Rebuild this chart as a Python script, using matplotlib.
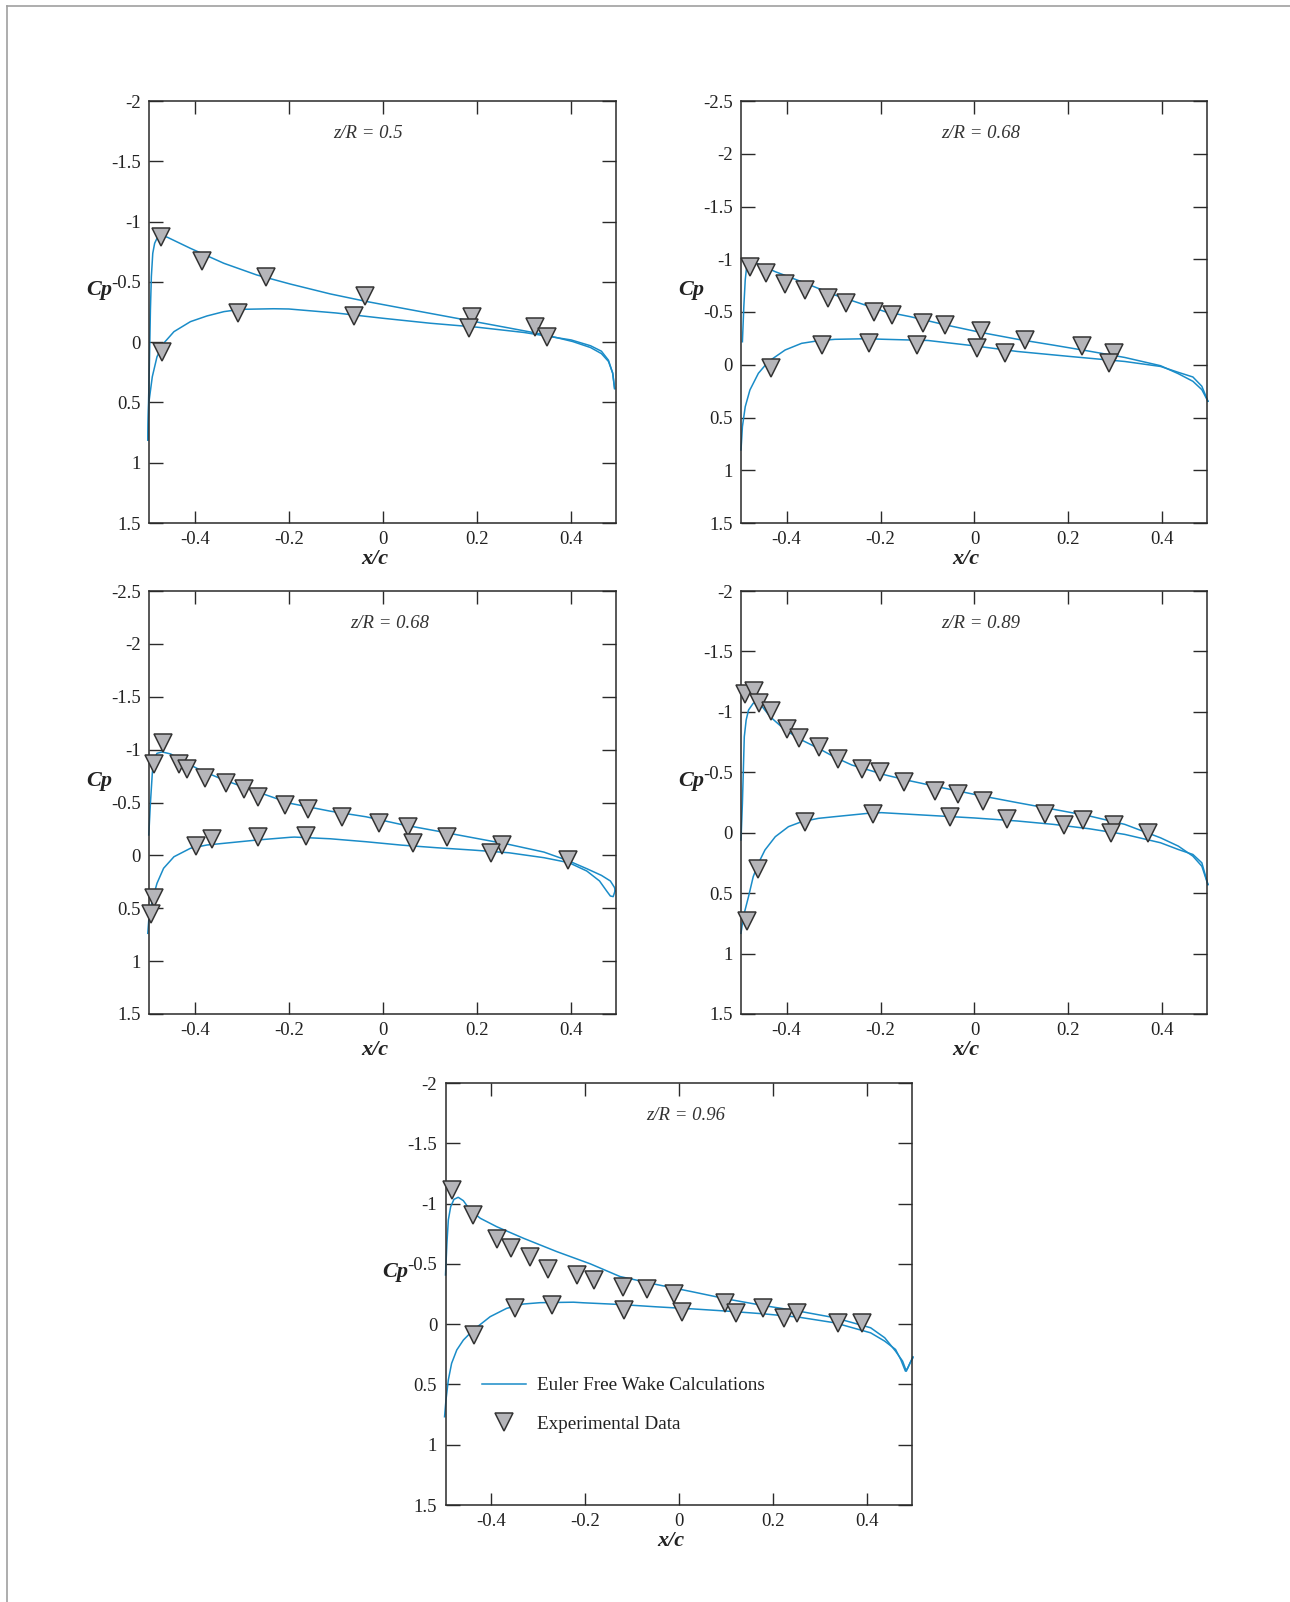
import matplotlib
matplotlib.use("Agg")
import matplotlib.pyplot as plt
from matplotlib.lines import Line2D

plt.rcParams['font.family'] = ['Liberation Serif', 'DejaVu Serif']
plt.rcParams['axes.unicode_minus'] = False

# ---------------- data ----------------
titles = ["z/R = 0.5", "z/R = 0.68", "z/R = 0.68", "z/R = 0.89", "z/R = 0.96"]
ylims = [(-2.0, 1.5), (-2.5, 1.5), (-2.5, 1.5), (-2.0, 1.5), (-2.0, 1.5)]
xticks = [-0.4, -0.2, 0.0, 0.2, 0.4]
xtick_labels = ["-0.4", "-0.2", "0", "0.2", "0.4"]
yticks_a = [-2.0, -1.5, -1.0, -0.5, 0.0, 0.5, 1.0, 1.5]
yticks_b = [-2.5, -2.0, -1.5, -1.0, -0.5, 0.0, 0.5, 1.0, 1.5]

# Panel 1 (z/R = 0.5)
p1_exp_x = [-0.472, -0.385, -0.248, -0.038, 0.189, 0.183, 0.322, 0.348, -0.307, -0.061, -0.470]
p1_exp_cp = [-0.871, -0.673, -0.541, -0.379, -0.212, -0.118, -0.126, -0.041, -0.242, -0.217, 0.082]
p1_up_x = [-0.4996, -0.498, -0.496, -0.494, -0.492, -0.489, -0.485, -0.480, -0.469, -0.458, -0.409,
           -0.338, -0.268, -0.197, -0.112, -0.036, 0.039, 0.115, 0.191, 0.267, 0.342, 0.403,
           0.441, 0.464, 0.479, 0.488, 0.492]
p1_up_cp = [0.812, 0.507, 0.148, -0.267, -0.543, -0.737, -0.820, -0.861, -0.880, -0.870, -0.778,
            -0.654, -0.557, -0.482, -0.400, -0.338, -0.283, -0.228, -0.173, -0.118, -0.063, -0.005,
            0.045, 0.095, 0.160, 0.255, 0.385]
p1_lo_x = [-0.4996, -0.4975, -0.490, -0.480, -0.466, -0.444, -0.409, -0.374, -0.338, -0.303, -0.232,
           -0.2, -0.1, 0.0, 0.1, 0.2, 0.3, 0.4, 0.441, 0.464, 0.479, 0.488, 0.492]
p1_lo_cp = [0.812, 0.507, 0.287, 0.121, 0.010, -0.087, -0.170, -0.217, -0.253, -0.272, -0.277,
            -0.275, -0.242, -0.198, -0.157, -0.124, -0.080, -0.018, 0.030, 0.075, 0.150, 0.260, 0.385]

# Panel 2 (z/R = 0.68)
p2_exp_x = [-0.478, -0.444, -0.404, -0.360, -0.312, -0.274, -0.213, -0.175, -0.110, -0.063, 0.014,
            0.107, 0.229, 0.297, 0.286, -0.324, -0.225, -0.123, 0.006, 0.066, -0.433]
p2_exp_cp = [-0.928, -0.865, -0.770, -0.708, -0.629, -0.588, -0.503, -0.472, -0.393, -0.377, -0.324,
             -0.236, -0.173, -0.110, -0.016, -0.189, -0.204, -0.189, -0.157, -0.110, 0.031]
p2_up_x = [-0.494, -0.491, -0.488, -0.485, -0.478, -0.460, -0.424, -0.368, -0.297, -0.190, -0.137,
           -0.061, 0.015, 0.091, 0.168, 0.244, 0.320, 0.396, 0.434, 0.465, 0.484, 0.497]
p2_up_cp = [-0.218, -0.550, -0.803, -0.929, -0.977, -0.955, -0.882, -0.787, -0.661, -0.503, -0.456,
            -0.377, -0.305, -0.242, -0.186, -0.129, -0.069, 0.009, 0.085, 0.157, 0.236, 0.346]
p2_lo_x = [-0.497, -0.494, -0.488, -0.478, -0.460, -0.439, -0.403, -0.368, -0.332, -0.297, -0.226,
           -0.198, -0.099, 0.0, 0.091, 0.202, 0.320, 0.396, 0.434, 0.465, 0.484, 0.497]
p2_lo_cp = [0.808, 0.587, 0.398, 0.239, 0.081, -0.029, -0.140, -0.203, -0.228, -0.241, -0.247,
            -0.242, -0.230, -0.179, -0.126, -0.079, -0.031, 0.016, 0.072, 0.116, 0.204, 0.346]

# Panel 3 (z/R = 0.68)
p3_exp_x = [-0.467, -0.486, -0.434, -0.417, -0.377, -0.333, -0.296, -0.266, -0.208, -0.160, -0.086,
            -0.009, 0.053, 0.136, 0.252, 0.230, 0.394, 0.064, -0.164, -0.266, -0.364, -0.398,
            -0.486, -0.492]
p3_exp_cp = [-1.063, -0.865, -0.865, -0.818, -0.733, -0.686, -0.629, -0.550, -0.472, -0.440, -0.362,
             -0.308, -0.270, -0.176, -0.097, -0.025, 0.044, -0.119, -0.182, -0.176, -0.151, -0.088,
             0.399, 0.557]
p3_up_x = [-0.4975, -0.494, -0.490, -0.487, -0.480, -0.469, -0.451, -0.423, -0.388, -0.338, -0.268,
           -0.197, -0.112, -0.036, 0.039, 0.115, 0.191, 0.267, 0.342, 0.395, 0.433, 0.464,
           0.483, 0.492, 0.493]
p3_up_cp = [-0.193, -0.492, -0.776, -0.902, -0.965, -0.978, -0.959, -0.886, -0.807, -0.713, -0.602,
            -0.492, -0.418, -0.365, -0.292, -0.230, -0.167, -0.104, -0.031, 0.053, 0.126, 0.189,
            0.242, 0.305, 0.336]
p3_lo_x = [-0.4996, -0.4975, -0.490, -0.480, -0.466, -0.444, -0.409, -0.374, -0.338, -0.268, -0.197,
           -0.188, -0.112, -0.036, 0.039, 0.115, 0.191, 0.267, 0.342, 0.395, 0.433, 0.460,
           0.475, 0.483, 0.489, 0.493]
p3_lo_cp = [0.737, 0.611, 0.422, 0.264, 0.122, 0.013, -0.067, -0.098, -0.114, -0.145, -0.171,
            -0.173, -0.157, -0.129, -0.097, -0.072, -0.050, -0.025, 0.022, 0.069, 0.148, 0.242,
            0.336, 0.384, 0.390, 0.336]

# Panel 4 (z/R = 0.89)
p4_exp_x = [-0.488, -0.469, -0.459, -0.434, -0.400, -0.373, -0.331, -0.290, -0.240, -0.202, -0.149,
            -0.084, -0.034, 0.018, 0.150, 0.190, 0.230, 0.297, 0.291, 0.370, 0.069, -0.053,
            -0.217, -0.360, -0.460, -0.485]
p4_exp_cp = [-1.150, -1.169, -1.075, -1.003, -0.859, -0.781, -0.706, -0.609, -0.526, -0.499, -0.416,
             -0.346, -0.319, -0.263, -0.158, -0.066, -0.105, -0.061, 0.000, 0.000, -0.116, -0.133,
             -0.152, -0.091, 0.299, 0.734]
p4_up_x = [-0.497, -0.494, -0.492, -0.490, -0.486, -0.481, -0.471, -0.460, -0.435, -0.403, -0.368,
           -0.332, -0.297, -0.261, -0.190, -0.137, -0.061, 0.015, 0.091, 0.168, 0.244, 0.320,
           0.396, 0.434, 0.465, 0.484, 0.497]
p4_up_cp = [0.060, -0.243, -0.519, -0.794, -0.933, -1.015, -1.071, -1.084, -0.960, -0.850, -0.767,
            -0.698, -0.624, -0.560, -0.478, -0.429, -0.366, -0.305, -0.249, -0.194, -0.139, -0.069,
            0.042, 0.111, 0.194, 0.277, 0.429]
p4_lo_x = [-0.497, -0.492, -0.481, -0.471, -0.460, -0.446, -0.424, -0.396, -0.368, -0.332, -0.297,
           -0.225, -0.198, -0.099, 0.0, 0.091, 0.168, 0.244, 0.320, 0.396, 0.434, 0.465,
           0.484, 0.497]
p4_lo_cp = [0.832, 0.695, 0.529, 0.364, 0.253, 0.143, 0.033, -0.050, -0.091, -0.119, -0.133,
            -0.161, -0.166, -0.144, -0.122, -0.097, -0.069, -0.033, 0.014, 0.083, 0.139, 0.180,
            0.249, 0.429]

# Panel 5 (z/R = 0.96)
p5_exp_x = [-0.483, -0.439, -0.388, -0.357, -0.318, -0.279, -0.218, -0.181, -0.120, -0.069, -0.012,
            0.098, 0.121, 0.178, 0.222, 0.251, 0.338, 0.389, 0.005, -0.117, -0.271, -0.349, -0.437]
p5_exp_cp = [-1.110, -0.905, -0.708, -0.628, -0.556, -0.454, -0.407, -0.365, -0.307, -0.288, -0.252,
             -0.177, -0.094, -0.136, -0.053, -0.094, -0.006, -0.011, -0.102, -0.116, -0.158, -0.130,
             0.094]
p5_up_x = [-0.497, -0.494, -0.491, -0.486, -0.479, -0.470, -0.459, -0.445, -0.423, -0.388, -0.331,
           -0.260, -0.189, -0.126, -0.050, 0.026, 0.102, 0.178, 0.254, 0.331, 0.407, 0.437,
           0.460, 0.475, 0.483, 0.491, 0.497]
p5_up_cp = [-0.408, -0.670, -0.864, -0.974, -1.035, -1.052, -1.024, -0.947, -0.878, -0.808, -0.712,
            -0.601, -0.500, -0.395, -0.330, -0.270, -0.208, -0.155, -0.108, -0.053, 0.030, 0.113,
            0.224, 0.307, 0.390, 0.321, 0.279]
p5_lo_x = [-0.499, -0.496, -0.491, -0.484, -0.473, -0.459, -0.438, -0.402, -0.367, -0.331, -0.296,
           -0.225, -0.203, -0.126, -0.050, 0.026, 0.102, 0.178, 0.254, 0.331, 0.407, 0.437,
           0.460, 0.471, 0.481, 0.486, 0.497]
p5_lo_cp = [0.768, 0.629, 0.463, 0.325, 0.214, 0.132, 0.049, -0.062, -0.131, -0.167, -0.178,
            -0.182, -0.177, -0.163, -0.144, -0.127, -0.108, -0.086, -0.058, -0.011, 0.072, 0.141,
            0.210, 0.293, 0.390, 0.363, 0.271]

panels = [
    (p1_exp_x, p1_exp_cp, p1_up_x, p1_up_cp, p1_lo_x, p1_lo_cp),
    (p2_exp_x, p2_exp_cp, p2_up_x, p2_up_cp, p2_lo_x, p2_lo_cp),
    (p3_exp_x, p3_exp_cp, p3_up_x, p3_up_cp, p3_lo_x, p3_lo_cp),
    (p4_exp_x, p4_exp_cp, p4_up_x, p4_up_cp, p4_lo_x, p4_lo_cp),
    (p5_exp_x, p5_exp_cp, p5_up_x, p5_up_cp, p5_lo_x, p5_lo_cp),
]

# ---------------- layout / style ----------------
W, H = 1290, 1602
rects = [(149, 101, 616, 523), (741, 101, 1207, 523),
         (149, 591, 616, 1014), (741, 591, 1207, 1014),
         (445.5, 1083, 912, 1505)]
title_x = [0.47, 0.515, 0.516, 0.515, 0.515]
line_color = '#1a8cc8'
marker_face = '#b5b5b9'
marker_edge = '#333333'
dark = '#2a2a2a'
msize = 13

fig = plt.figure(figsize=(W / 100, H / 100), dpi=100)
fig.patch.set_facecolor('white')

# page border lines
fig.add_artist(Line2D([7 / W, 1.0], [1 - 6 / H, 1 - 6 / H], transform=fig.transFigure,
                      color='#a0a0a0', lw=1.2))
fig.add_artist(Line2D([7 / W, 7 / W], [0.0, 1 - 6 / H], transform=fig.transFigure,
                      color='#a0a0a0', lw=1.2))

for i, (rect, data) in enumerate(zip(rects, panels)):
    l, t, r, b = rect
    ax = fig.add_axes([l / W, 1 - b / H, (r - l) / W, (b - t) / H])
    ex, ecp, ux, ucp, lx, lcp = data
    ax.plot(ux, ucp, color=line_color, lw=1.1, clip_on=False, zorder=2)
    ax.plot(lx, lcp, color=line_color, lw=1.1, clip_on=False, zorder=2)
    ax.plot(ex, ecp, linestyle='none', marker='v', markersize=msize,
            markerfacecolor=marker_face, markeredgecolor=marker_edge,
            markeredgewidth=1.1, zorder=3, clip_on=False)

    ax.set_xlim(-0.497, 0.495)
    y0, y1 = ylims[i]
    ax.set_ylim(y1, y0)
    yt = yticks_b if y0 < -2.2 else yticks_a
    ax.set_yticks(yt)
    ax.set_yticklabels([f"{v:g}" for v in yt])
    ax.set_xticks(xticks)
    ax.set_xticklabels(xtick_labels)
    ax.tick_params(axis='both', direction='in', top=True, right=True,
                   labelsize=13.5, colors=dark, width=1.0, labelcolor='#222222')
    ax.tick_params(axis='y', length=10, pad=6)
    ax.tick_params(axis='x', length=9, pad=6)
    for sp in ax.spines.values():
        sp.set_color(dark)
        sp.set_linewidth(1.1)

    ax.text(title_x[i], 1 - 33 / (b - t), titles[i], transform=ax.transAxes,
            ha='center', va='center', fontsize=13.5, style='italic', color='#333333')
    ax.text(-50 / (r - l), 0.551, "Cp", transform=ax.transAxes, ha='center', va='center',
            fontsize=16, fontweight='bold', style='italic', color='#222222')
    ax.text(0.483, -36 / (b - t), "x/c", transform=ax.transAxes, ha='center', va='center',
            fontsize=16, fontweight='bold', style='italic', color='#222222')

    if i == 4:
        h1 = Line2D([], [], color=line_color, lw=1.1)
        h2 = Line2D([], [], linestyle='none', marker='v', markersize=msize,
                    markerfacecolor=marker_face, markeredgecolor=marker_edge, markeredgewidth=1.1)
        leg = ax.legend([h1, h2], ["Euler Free Wake Calculations", "Experimental Data"],
                        loc='center left', bbox_to_anchor=(0.079, 0.237), frameon=False,
                        fontsize=13.8, handlelength=2.3, handletextpad=0.55, labelspacing=1.1,
                        borderpad=0, borderaxespad=0)
        for txt in leg.get_texts():
            txt.set_color('#222222')

fig.savefig("out.png", dpi=100, facecolor='white')
